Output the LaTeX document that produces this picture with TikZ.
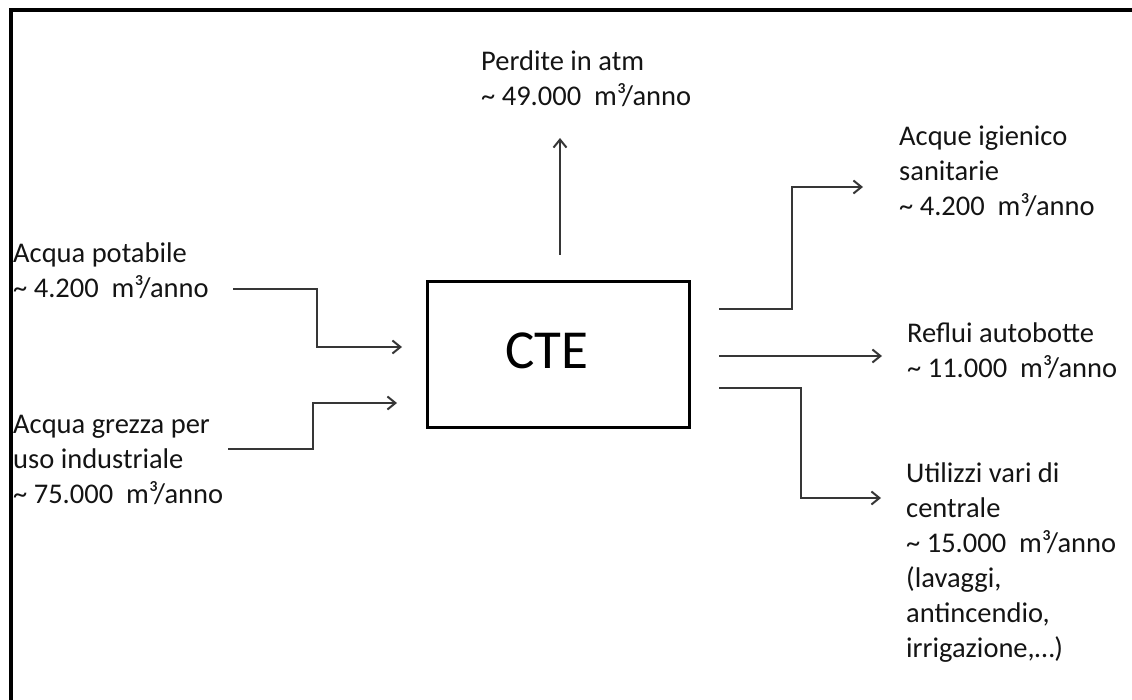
\documentclass[tikz,border=0pt]{standalone}
\usepackage{fontspec}
\setmainfont{Carlito}
\usetikzlibrary{arrows,arrows.meta}
\usetikzlibrary{calc, positioning}
\definecolor{lineG}{HTML}{363636}
\definecolor{textG}{HTML}{141414}
\tikzset{
    flowA/.style={draw=lineG, line width=2pt, -{Straight Barb[length=8pt,width=13pt]}},
    boxC/.style={draw=black, line width=3pt, minimum width=262pt, minimum height=145pt, inner sep=0pt},
    lblT/.style={anchor=north west, inner sep=0pt, align=left, text=textG,
        font=\fontsize{28.5}{35}\selectfont, yshift=17pt,
        execute at begin node={\rule{0pt}{25pt}}}
}

\begin{document}
\begin{tikzpicture}[x=1pt, y=-1pt]
    \useasboundingbox (0,0) rectangle (1132,700);
    % cornice
    \draw[line width=3.5pt] (11,700) -- (11,10) -- (1132,10);
    % centrale
    \node[boxC] (cte) at (558,354.5) {};
    \node[text=black, font=\fontsize{55}{60}\selectfont] (cteT) at (547,351) {CTE};
    % ingressi
    \coordinate (i1) at (233,289);
    \coordinate (i2) at (402,347);
    \coordinate (i3) at (228,449);
    \coordinate (i4) at (397,403);
    \draw[flowA] (i1) -- ++(84,0) |- (i2);
    \draw[flowA] (i3) -- ++(85,0) |- (i4);
    % uscite
    \coordinate (u0) at (560,255);
    \coordinate (u1) at (560,138);
    \draw[flowA] (u0) -- (u1);
    \coordinate (o1) at (719,309);
    \coordinate (o2) at (863,187);
    \coordinate (o3) at (719,356);
    \coordinate (o4) at (882,356);
    \coordinate (o5) at (719,388);
    \coordinate (o6) at (881,498);
    \draw[flowA] (o1) -- ++(73,0) |- (o2);
    \draw[flowA] (o3) -- (o4);
    \draw[flowA] (o5) -- ++(82,0) |- (o6);
    % etichette
    \node[lblT] (perd) at (481,68) {Perdite in atm\\\textasciitilde{} 49.000\ \ m³/anno};
    \node[lblT] (pota) at (13,260) {Acqua potabile\\\textasciitilde{} 4.200\ \ m³/anno};
    \node[lblT] (grez) at (13,432) {Acqua grezza per\\uso industriale\\\textasciitilde{} 75.000\ \ m³/anno};
    \node[lblT] (igie) at (899,143) {Acque igienico\\sanitarie\\\textasciitilde{} 4.200\ \ m³/anno};
    \node[lblT] (refl) at (907,340) {Reflui autobotte\\\textasciitilde{} 11.000\ \ m³/anno};
    \node[lblT] (util) at (906,480) {Utilizzi vari di\\centrale\\\textasciitilde{} 15.000\ \ m³/anno\\(lavaggi,\\antincendio,\\irrigazione,…)};
\end{tikzpicture}
\end{document}
